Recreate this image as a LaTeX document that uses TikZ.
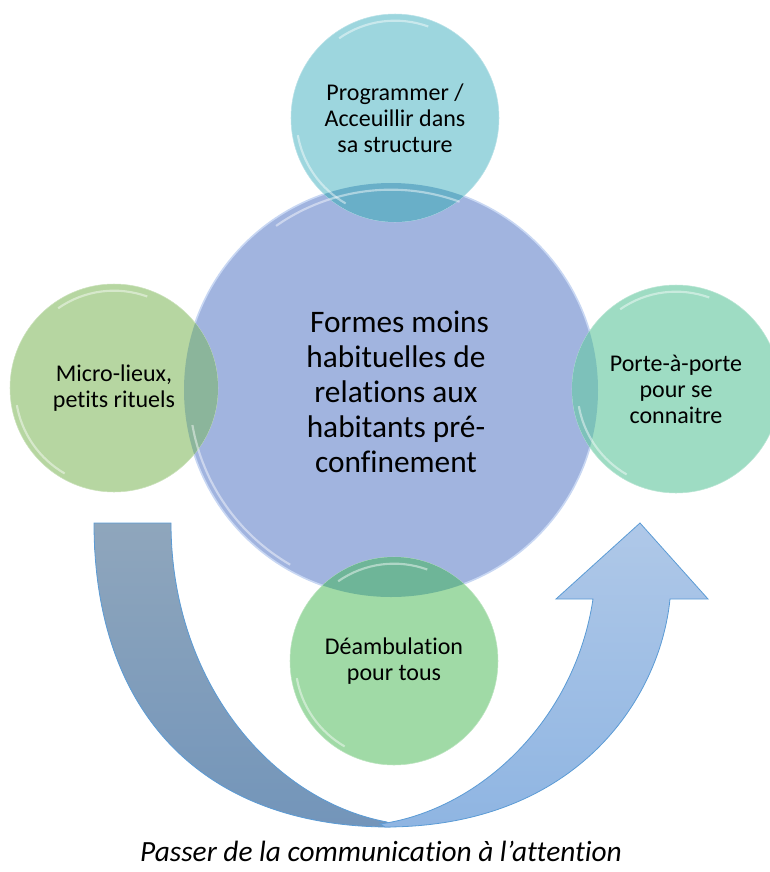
\documentclass[tikz,border=0pt]{standalone}
\usepackage{fontspec}
\setmainfont[Ligatures={NoCommon,NoContextual}]{Carlito}

\definecolor{coreblue}{HTML}{A1B4DF}
\definecolor{corerim}{HTML}{C8D7F3}
\definecolor{tealbub}{HTML}{9DD6DE}
\definecolor{tealover}{HTML}{69AFC8}
\definecolor{leafbub}{HTML}{B6D6A1}
\definecolor{leafover}{HTML}{8BB59B}
\definecolor{mintbub}{HTML}{9EDCC3}
\definecolor{mintover}{HTML}{7DC1BA}
\definecolor{grassbub}{HTML}{A0DAA6}
\definecolor{grassover}{HTML}{6EB598}
\definecolor{tailtop}{HTML}{8FA6BC}
\definecolor{tailbot}{HTML}{7395BA}
\definecolor{headtop}{HTML}{AFC8E8}
\definecolor{headbot}{HTML}{8FB5E2}
\definecolor{arrowline}{HTML}{5B9BD5}

\tikzset{
  bubble/.style={circle, inner sep=0pt, minimum size=156pt},
  label/.style={align=center, font=\fontsize{18}{19.5}\selectfont},
  rim/.style={white, opacity=.45, line width=1.6pt},
}

% white glint inside a bubble: centre, radius
\newcommand\glint[2]{
  \draw[rim] ([shift={(70:#2-5pt)}]#1) arc[start angle=70, end angle=125, radius=#2-5pt];
  \draw[rim] ([shift={(190:#2-4pt)}]#1) arc[start angle=190, end angle=240, radius=#2-4pt];
}

\begin{document}
\begin{tikzpicture}[x=0.75pt,y=-0.75pt]
\useasboundingbox (0,0) rectangle (770,872);

% curved arrow underneath
\draw[arrowline, line width=0.6pt, top color=tailtop, bottom color=tailbot]
  (94,523) -- (171,523) .. controls (171,680) and (270,800) .. (387,822)
  -- (390,827) .. controls (210,827) and (94,720) .. cycle;
\draw[arrowline, line width=0.6pt, top color=headtop, bottom color=headbot]
  (385,827) .. controls (575,827) and (660,700) .. (670,599)
  -- (708,599) -- (640,523) -- (556,599) -- (593,599)
  .. controls (575,720) and (480,810) .. (380,824) -- cycle;

\node[circle, minimum size=310.5pt, fill=coreblue, draw=corerim, line width=1.2pt] (core) at (391,390) {};

\node[bubble, fill=tealbub, draw=tealbub!70!white] (prog) at (395,118) {};
\node[bubble, fill=leafbub, draw=leafbub!70!white] (micro) at (114,388) {};
\node[bubble, fill=mintbub, draw=mintbub!70!white] (porte) at (676,389) {};
\node[bubble, fill=grassbub, draw=grassbub!70!white] (deamb) at (394,661) {};

\begin{scope}
\clip (core.center) circle[radius=155.25pt];
\fill[tealover] (prog.center) circle[radius=78pt];
\fill[leafover] (micro.center) circle[radius=78pt];
\fill[mintover] (porte.center) circle[radius=78pt];
\fill[grassover] (deamb.center) circle[radius=78pt];
\end{scope}

\glint{core.center}{155.25pt}
\glint{prog.center}{78pt}
\glint{micro.center}{78pt}
\glint{porte.center}{78pt}
\glint{deamb.center}{78pt}

\node[label] (progtxt) at (prog.center) {Programmer /\\Acceuillir dans\\sa structure};
\node[label] (microtxt) at (micro.center) {Micro-lieux,\\petits rituels};
\node[label] (portetxt) at (porte.center) {Porte-à-porte\\pour se\\connaitre};
\node[label] (deambtxt) at (deamb.center) {Déambulation\\pour tous};
\node[align=center, font=\fontsize{23.5}{26.25}\selectfont] (coretxt) at (396,392)
  {\ Formes moins\\habituelles de\\relations aux\\habitants pré-\\confinement};

\node[font=\fontsize{22}{24}\selectfont\itshape] (caption) at (381,851) {Passer de la communication à l’attention};
\end{tikzpicture}
\end{document}
